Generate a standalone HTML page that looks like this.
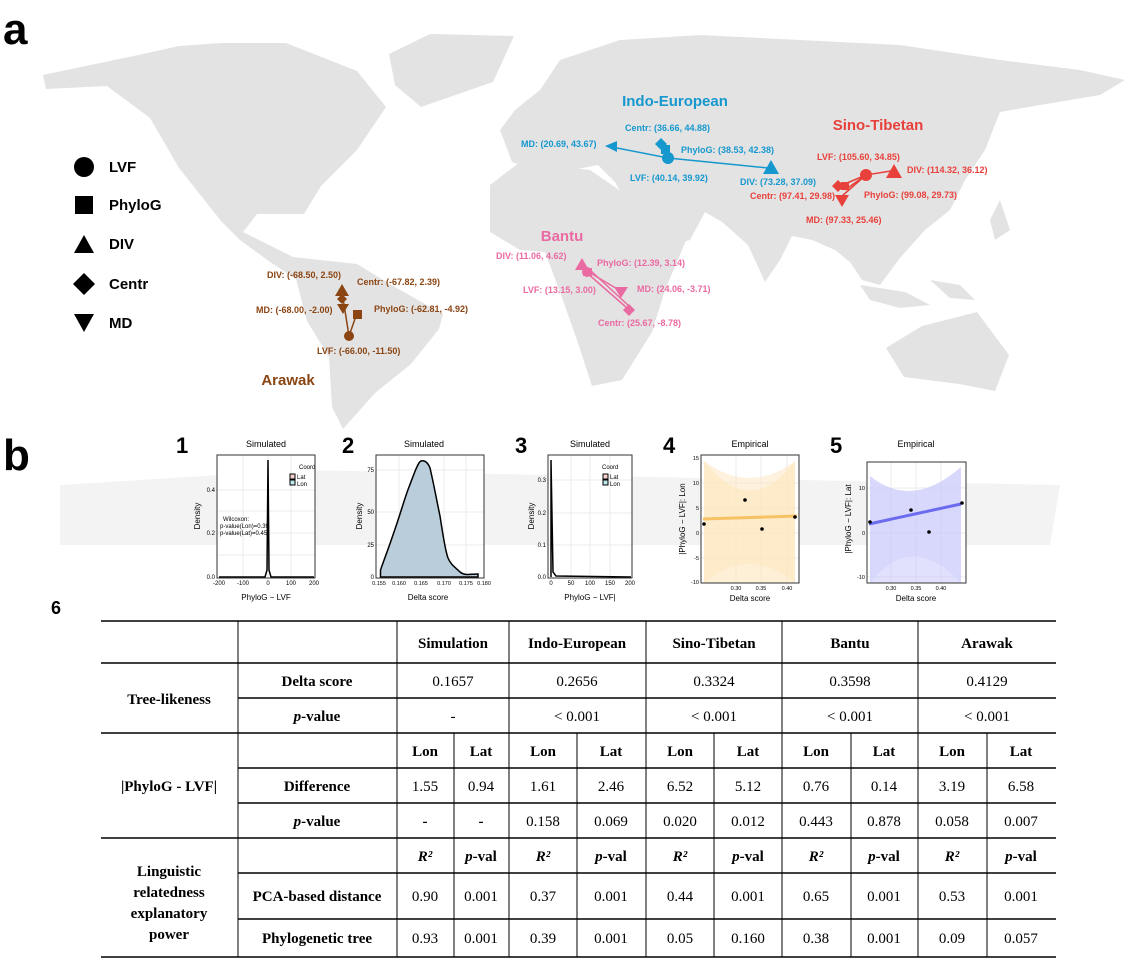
<!DOCTYPE html>
<html><head><meta charset="utf-8"><style>
html,body{margin:0;padding:0;background:#fff;}
svg{display:block;}
.m{font-family:"Liberation Sans",sans-serif;font-weight:bold;}
.t{font-family:"Liberation Serif",serif;font-size:15px;}
.b{font-weight:bold;}
</style></head><body>
<svg width="1128" height="966" viewBox="0 0 1128 966" xmlns="http://www.w3.org/2000/svg">
<!-- map -->
<g fill="#e3e3e3">
<polygon points="43,75 143,54 179,46 221,43 286,43 357,71 386,107 357,150 321,186 304,214 257,214 243,232 293,257 311,271 296,279 270,262 240,240 221,221 179,168 150,118 107,86 46,89"/>
<polygon points="389,54 430,34 514,36 493,82 421,107 395,85"/>
<polygon points="293,257 357,264 393,286 443,314 439,329 411,364 375,393 343,429 332,407 329,357 307,321 296,279"/>
<polygon points="500,130 515,110 540,90 560,60 620,40 700,35 800,40 900,45 1000,60 1080,70 1125,80 1100,95 1040,105 1000,112 985,150 965,180 950,210 925,230 900,258 880,285 862,280 850,262 835,250 812,240 792,236 780,260 765,282 748,245 722,222 705,212 690,240 660,250 640,240 628,205 615,182 598,165 572,170 540,172 512,162"/>
<polygon points="490,185 520,162 590,170 622,192 650,235 688,236 665,290 652,332 622,380 592,386 577,340 560,292 545,252 520,250 490,232"/>
<polygon points="886,348 922,326 977,312 1009,355 995,391 959,384 904,377"/>
<polygon points="860,285 905,292 930,305 900,308 870,300"/>
<polygon points="930,280 960,285 975,300 950,298"/>
<polygon points="990,220 1000,200 1010,230 995,240"/>
</g>
<polygon points="60,485 300,470 700,478 1060,485 1050,545 60,545" fill="#f3f3f3"/>
<text x="3" y="44" class="m" font-size="44">a</text>
<text x="3" y="470" class="m" font-size="44">b</text>
<!-- legend -->
<g fill="#000">
<circle cx="84" cy="167" r="10"/>
<rect x="75" y="196" width="18" height="18"/>
<polygon points="84,235 94,253 74,253"/>
<polygon points="84,273 95,284 84,295 73,284"/>
<polygon points="74,314 94,314 84,332"/>
</g>
<g class="m" font-size="15" fill="#000">
<text x="109" y="172">LVF</text><text x="109" y="210">PhyloG</text><text x="109" y="249">DIV</text><text x="109" y="289">Centr</text><text x="109" y="328">MD</text>
</g>
<!-- Indo-European -->
<g fill="#1698cf" stroke="#1698cf">
<line x1="668" y1="158" x2="612" y2="147" stroke-width="1.5"/><line x1="668" y1="158" x2="768" y2="168" stroke-width="1.5"/>
<line x1="668" y1="158" x2="661" y2="145" stroke-width="3"/>
<circle cx="668" cy="158" r="6" stroke="none"/><rect x="661" y="145" width="9" height="9" stroke="none"/>
<polygon points="661,138 667,144 661,150 655,144" stroke="none"/>
<polygon points="605,146 617,141 617,152" stroke="none"/>
<polygon points="771,160 779,174 763,174" stroke="none"/>
</g>
<g class="m" font-size="9" fill="#1698cf">
<text x="675" y="106" font-size="15" text-anchor="middle">Indo-European</text>
<text x="625" y="131">Centr: (36.66, 44.88)</text>
<text x="681" y="153">PhyloG: (38.53, 42.38)</text>
<text x="521" y="147">MD: (20.69, 43.67)</text>
<text x="630" y="181">LVF: (40.14, 39.92)</text>
<text x="740" y="185">DIV: (73.28, 37.09)</text>
</g>
<!-- Sino-Tibetan -->
<g fill="#e8413c" stroke="#e8413c" stroke-width="1.5">
<line x1="866" y1="175" x2="891" y2="171"/><line x1="866" y1="175" x2="840" y2="186"/><line x1="866" y1="175" x2="845" y2="190"/><line x1="866" y1="175" x2="842" y2="196"/>
<circle cx="866" cy="175" r="6" stroke="none"/>
<polygon points="894,164 902,178 886,178" stroke="none"/>
<polygon points="838,180 844,186 838,192 832,186" stroke="none"/>
<rect x="841" y="182" width="8" height="8" stroke="none"/>
<polygon points="835,195 849,195 842,207" stroke="none"/>
</g>
<g class="m" font-size="9" fill="#e8413c">
<text x="878" y="130" font-size="15" text-anchor="middle">Sino-Tibetan</text>
<text x="817" y="160">LVF: (105.60, 34.85)</text>
<text x="907" y="173">DIV: (114.32, 36.12)</text>
<text x="750" y="199">Centr: (97.41, 29.98)</text>
<text x="864" y="198">PhyloG: (99.08, 29.73)</text>
<text x="806" y="223">MD: (97.33, 25.46)</text>
</g>
<!-- Bantu -->
<g fill="#ea6aa2" stroke="#ea6aa2" stroke-width="1.5">
<line x1="587" y1="271" x2="619" y2="290"/><line x1="587" y1="273" x2="627" y2="308"/><line x1="590" y1="270" x2="629" y2="306"/>
<polygon points="582,258 589,270 575,270" stroke="none"/>
<circle cx="587" cy="272" r="5" stroke="none"/><rect x="583" y="268" width="9" height="8" stroke="none"/>
<polygon points="614,287 628,287 621,298" stroke="none"/>
<polygon points="629,304 635,310 629,316 623,310" stroke="none"/>
</g>
<g class="m" font-size="9" fill="#ea6aa2">
<text x="562" y="241" font-size="15" text-anchor="middle">Bantu</text>
<text x="496" y="259">DIV: (11.06, 4.62)</text>
<text x="597" y="266">PhyloG: (12.39, 3.14)</text>
<text x="523" y="293">LVF: (13.15, 3.00)</text>
<text x="637" y="292">MD: (24.06, -3.71)</text>
<text x="598" y="326">Centr: (25.67, -8.78)</text>
</g>
<!-- Arawak -->
<g fill="#8b4513" stroke="#8b4513" stroke-width="1.5">
<line x1="349" y1="336" x2="342" y2="292"/><line x1="349" y1="336" x2="356" y2="316"/>
<circle cx="349" cy="336" r="5" stroke="none"/>
<polygon points="342,284 349,296 335,296" stroke="none"/>
<polygon points="342,294 347,299 342,304 337,299" stroke="none"/>
<polygon points="337,304 349,304 343,314" stroke="none"/>
<rect x="353" y="310" width="9" height="9" stroke="none"/>
</g>
<g class="m" font-size="9" fill="#8b4513">
<text x="288" y="385" font-size="15" text-anchor="middle">Arawak</text>
<text x="267" y="278">DIV: (-68.50, 2.50)</text>
<text x="357" y="285">Centr: (-67.82, 2.39)</text>
<text x="256" y="313">MD: (-68.00, -2.00)</text>
<text x="374" y="312">PhyloG: (-62.81, -4.92)</text>
<text x="317" y="354">LVF: (-66.00, -11.50)</text>
</g>
<!-- small plots -->
<g font-family="Liberation Sans,sans-serif">
<g class="m" font-size="22"><text x="176" y="453">1</text><text x="342" y="453">2</text><text x="515" y="453">3</text><text x="663" y="453">4</text><text x="830" y="453">5</text></g>
<g font-size="9" text-anchor="middle"><text x="266" y="447">Simulated</text><text x="424" y="447">Simulated</text><text x="590" y="447">Simulated</text><text x="750" y="447">Empirical</text><text x="916" y="447">Empirical</text></g>
<!-- plot1 -->
<rect x="217" y="455" width="98" height="123" fill="#fff"/>
<g stroke="#ebebeb" stroke-width="1"><line x1="243" y1="455" x2="243" y2="578"/><line x1="268" y1="455" x2="268" y2="578"/><line x1="291" y1="455" x2="291" y2="578"/><line x1="217" y1="490" x2="315" y2="490"/><line x1="217" y1="533" x2="315" y2="533"/><line x1="217" y1="511" x2="315" y2="511"/><line x1="217" y1="555" x2="315" y2="555"/></g>
<polyline points="219,577 265,577 267,570 268,460 269,570 271,577 314,577" fill="none" stroke="#000" stroke-width="1.5"/>
<rect x="217" y="455" width="98" height="123" fill="none" stroke="#333"/>
<g font-size="6"><text x="223" y="521">Wilcoxon:</text><text x="220" y="528">p-value(Lon)=0.39</text><text x="220" y="535">p-value(Lat)=0.45</text></g>
<text x="299" y="469" font-size="6">Coord</text><rect x="290" y="474" width="5" height="5" fill="#f8d0cc" stroke="#000"/><rect x="290" y="480" width="5" height="5" fill="#bfe8ee" stroke="#000"/><text x="297" y="479" font-size="6">Lat</text><text x="297" y="486" font-size="6">Lon</text>
<g font-size="6" text-anchor="end"><text x="215" y="492">0.4</text><text x="215" y="535">0.2</text><text x="215" y="579">0.0</text></g>
<g font-size="6" text-anchor="middle"><text x="219" y="585">-200</text><text x="243" y="585">-100</text><text x="268" y="585">0</text><text x="291" y="585">100</text><text x="314" y="585">200</text></g>
<text x="266" y="600" font-size="8" text-anchor="middle">PhyloG − LVF</text>
<text transform="translate(200,516) rotate(-90)" font-size="8" text-anchor="middle">Density</text>
<!-- plot2 -->
<rect x="376" y="455" width="108" height="123" fill="#fff"/>
<g stroke="#ebebeb"><line x1="399" y1="455" x2="399" y2="578"/><line x1="421" y1="455" x2="421" y2="578"/><line x1="444" y1="455" x2="444" y2="578"/><line x1="466" y1="455" x2="466" y2="578"/><line x1="376" y1="470" x2="484" y2="470"/><line x1="376" y1="512" x2="484" y2="512"/><line x1="376" y1="545" x2="484" y2="545"/></g>
<path d="M380.5,577 L380.5,570 C384,560 389,547 394,532 C400,515 405,497 409,487 C414,474 418,462 421,461 C425,460 428,463 430,468 C434,485 437,502 440,516 C443,535 445,550 448,558 C451,565 455,567 460,572 C465,576 470,574 478,574 L478,577 Z" fill="#b9cdda" stroke="#000" stroke-width="1.5"/>
<rect x="376" y="455" width="108" height="123" fill="none" stroke="#333"/>
<g font-size="6" text-anchor="end"><text x="374" y="472">75</text><text x="374" y="514">50</text><text x="374" y="547">25</text><text x="374" y="579">0</text></g>
<g font-size="5.5" text-anchor="middle"><text x="379" y="585">0.155</text><text x="399" y="585">0.160</text><text x="421" y="585">0.165</text><text x="444" y="585">0.170</text><text x="466" y="585">0.175</text><text x="484" y="585">0.180</text></g>
<text x="428" y="600" font-size="8" text-anchor="middle">Delta score</text>
<text transform="translate(362,516) rotate(-90)" font-size="8" text-anchor="middle">Density</text>
<!-- plot3 -->
<rect x="548" y="455" width="84" height="123" fill="#fff"/>
<g stroke="#ebebeb"><line x1="571" y1="455" x2="571" y2="578"/><line x1="590" y1="455" x2="590" y2="578"/><line x1="610" y1="455" x2="610" y2="578"/><line x1="548" y1="480" x2="632" y2="480"/><line x1="548" y1="513" x2="632" y2="513"/><line x1="548" y1="545" x2="632" y2="545"/></g>
<polyline points="551,577 551,460 553,572 556,576 631,577" fill="none" stroke="#000" stroke-width="1.5"/>
<rect x="548" y="455" width="84" height="123" fill="none" stroke="#333"/>
<text x="602" y="469" font-size="6">Coord</text><rect x="603" y="474" width="5" height="5" fill="#f8d0cc" stroke="#000"/><rect x="603" y="480" width="5" height="5" fill="#bfe8ee" stroke="#000"/><text x="610" y="479" font-size="6">Lat</text><text x="610" y="486" font-size="6">Lon</text>
<g font-size="6" text-anchor="end"><text x="546" y="482">0.3</text><text x="546" y="515">0.2</text><text x="546" y="547">0.1</text><text x="546" y="579">0.0</text></g>
<g font-size="6" text-anchor="middle"><text x="551" y="585">0</text><text x="571" y="585">50</text><text x="590" y="585">100</text><text x="610" y="585">150</text><text x="630" y="585">200</text></g>
<text x="590" y="600" font-size="8" text-anchor="middle">PhyloG − LVF|</text>
<text transform="translate(534,516) rotate(-90)" font-size="8" text-anchor="middle">Density</text>
<!-- plot4 -->
<rect x="701" y="455" width="98" height="128" fill="#fff"/>
<g stroke="#ebebeb"><line x1="736" y1="455" x2="736" y2="583"/><line x1="761" y1="455" x2="761" y2="583"/><line x1="787" y1="455" x2="787" y2="583"/><line x1="701" y1="483" x2="799" y2="483"/><line x1="701" y1="508" x2="799" y2="508"/><line x1="701" y1="533" x2="799" y2="533"/><line x1="701" y1="558" x2="799" y2="558"/></g>
<path d="M704,461 Q750,520 795,461 L795,583 L704,583 Z" fill="#fde6bd" opacity="0.6"/>
<path d="M704,461 Q750,495 795,461 L795,583 Q750,545 704,583 Z" fill="#fde6bd" opacity="0.5"/>
<line x1="703" y1="519" x2="797" y2="516" stroke="#f7c264" stroke-width="3"/>
<g fill="#000"><circle cx="704" cy="524" r="1.8"/><circle cx="745" cy="500" r="1.8"/><circle cx="762" cy="529" r="1.8"/><circle cx="795" cy="517" r="1.8"/></g>
<rect x="701" y="455" width="98" height="128" fill="none" stroke="#333"/>
<g font-size="5.5" text-anchor="end"><text x="699" y="460">15</text><text x="699" y="485">10</text><text x="699" y="510">5</text><text x="699" y="535">0</text><text x="699" y="560">-5</text><text x="699" y="584">-10</text></g>
<g font-size="5.5" text-anchor="middle"><text x="736" y="590">0.30</text><text x="761" y="590">0.35</text><text x="787" y="590">0.40</text></g>
<text x="750" y="601" font-size="8" text-anchor="middle">Delta score</text>
<text transform="translate(685,519) rotate(-90)" font-size="8" text-anchor="middle">|PhyloG − LVF|: Lon</text>
<!-- plot5 -->
<rect x="867" y="462" width="99" height="121" fill="#fff"/>
<g stroke="#ebebeb"><line x1="891" y1="462" x2="891" y2="583"/><line x1="916" y1="462" x2="916" y2="583"/><line x1="941" y1="462" x2="941" y2="583"/><line x1="867" y1="488" x2="966" y2="488"/><line x1="867" y1="533" x2="966" y2="533"/><line x1="867" y1="577" x2="966" y2="577"/></g>
<path d="M870,476 Q912,510 961,467 L961,583 L870,583 Z" fill="#c9c9fb" opacity="0.55"/>
<path d="M870,476 Q912,510 961,467 L961,583 Q912,530 870,583 Z" fill="#c9c9fb" opacity="0.35"/>
<line x1="869" y1="524" x2="961" y2="504" stroke="#6b6bef" stroke-width="3"/>
<g fill="#000"><circle cx="870" cy="522" r="1.8"/><circle cx="911" cy="510" r="1.8"/><circle cx="929" cy="532" r="1.8"/><circle cx="962" cy="503" r="1.8"/></g>
<rect x="867" y="462" width="99" height="121" fill="none" stroke="#333"/>
<g font-size="5.5" text-anchor="end"><text x="865" y="490">10</text><text x="865" y="535">0</text><text x="865" y="579">-10</text></g>
<g font-size="5.5" text-anchor="middle"><text x="891" y="590">0.30</text><text x="916" y="590">0.35</text><text x="941" y="590">0.40</text></g>
<text x="916" y="601" font-size="8" text-anchor="middle">Delta score</text>
<text transform="translate(851,519) rotate(-90)" font-size="8" text-anchor="middle">|PhyloG − LVF|: Lat</text>
</g>
<text x="51" y="614" class="m" font-size="18">6</text>
<!-- table -->
<g stroke="#000" stroke-width="1.5">
<line x1="101" y1="621" x2="1056" y2="621"/><line x1="101" y1="663" x2="1056" y2="663"/>
<line x1="238" y1="698" x2="1056" y2="698"/><line x1="101" y1="733" x2="1056" y2="733"/>
<line x1="238" y1="768" x2="1056" y2="768"/><line x1="238" y1="803" x2="1056" y2="803"/>
<line x1="101" y1="838" x2="1056" y2="838"/><line x1="238" y1="873" x2="1056" y2="873"/>
<line x1="238" y1="919" x2="1056" y2="919"/><line x1="101" y1="957" x2="1056" y2="957"/>
</g>
<g stroke="#000" stroke-width="1">
<line x1="238" y1="621" x2="238" y2="957"/><line x1="397" y1="621" x2="397" y2="957"/><line x1="509" y1="621" x2="509" y2="957"/><line x1="646" y1="621" x2="646" y2="957"/><line x1="782" y1="621" x2="782" y2="957"/><line x1="918" y1="621" x2="918" y2="957"/>
<line x1="454" y1="733" x2="454" y2="957"/><line x1="577" y1="733" x2="577" y2="957"/><line x1="714" y1="733" x2="714" y2="957"/><line x1="851" y1="733" x2="851" y2="957"/><line x1="987" y1="733" x2="987" y2="957"/>
</g>
<g class="t" text-anchor="middle">
<g class="b"><text x="453" y="648">Simulation</text><text x="577" y="648">Indo-European</text><text x="714" y="648">Sino-Tibetan</text><text x="850" y="648">Bantu</text><text x="987" y="648">Arawak</text>
<text x="169" y="704">Tree-likeness</text><text x="169" y="791">|PhyloG - LVF|</text>
<text x="169" y="876">Linguistic</text><text x="169" y="897">relatedness</text><text x="169" y="918">explanatory</text><text x="169" y="939">power</text>
<text x="317" y="686">Delta score</text><text x="317" y="721"><tspan font-style="italic">p</tspan>-value</text>
<text x="317" y="791">Difference</text><text x="317" y="826"><tspan font-style="italic">p</tspan>-value</text>
<text x="317" y="901">PCA-based distance</text><text x="317" y="943">Phylogenetic tree</text>
<text x="425" y="756">Lon</text><text x="481" y="756">Lat</text><text x="543" y="756">Lon</text><text x="611" y="756">Lat</text><text x="680" y="756">Lon</text><text x="748" y="756">Lat</text><text x="816" y="756">Lon</text><text x="884" y="756">Lat</text><text x="952" y="756">Lon</text><text x="1021" y="756">Lat</text>
<g font-style="italic"><text x="425" y="861">R²</text><text x="543" y="861">R²</text><text x="680" y="861">R²</text><text x="816" y="861">R²</text><text x="952" y="861">R²</text></g>
<text x="481" y="861"><tspan font-style="italic">p</tspan>-val</text><text x="611" y="861"><tspan font-style="italic">p</tspan>-val</text><text x="748" y="861"><tspan font-style="italic">p</tspan>-val</text><text x="884" y="861"><tspan font-style="italic">p</tspan>-val</text><text x="1021" y="861"><tspan font-style="italic">p</tspan>-val</text>
</g>
<text x="453" y="686">0.1657</text><text x="577" y="686">0.2656</text><text x="714" y="686">0.3324</text><text x="850" y="686">0.3598</text><text x="987" y="686">0.4129</text>
<text x="453" y="721">-</text><text x="577" y="721">&lt; 0.001</text><text x="714" y="721">&lt; 0.001</text><text x="850" y="721">&lt; 0.001</text><text x="987" y="721">&lt; 0.001</text>
<text x="425" y="791">1.55</text><text x="481" y="791">0.94</text><text x="543" y="791">1.61</text><text x="611" y="791">2.46</text><text x="680" y="791">6.52</text><text x="748" y="791">5.12</text><text x="816" y="791">0.76</text><text x="884" y="791">0.14</text><text x="952" y="791">3.19</text><text x="1021" y="791">6.58</text>
<text x="425" y="826" class="b">-</text><text x="481" y="826" class="b">-</text><text x="543" y="826">0.158</text><text x="611" y="826">0.069</text><text x="680" y="826">0.020</text><text x="748" y="826">0.012</text><text x="816" y="826">0.443</text><text x="884" y="826">0.878</text><text x="952" y="826">0.058</text><text x="1021" y="826">0.007</text>
<text x="425" y="901">0.90</text><text x="481" y="901">0.001</text><text x="543" y="901">0.37</text><text x="611" y="901">0.001</text><text x="680" y="901">0.44</text><text x="748" y="901">0.001</text><text x="816" y="901">0.65</text><text x="884" y="901">0.001</text><text x="952" y="901">0.53</text><text x="1021" y="901">0.001</text>
<text x="425" y="943">0.93</text><text x="481" y="943">0.001</text><text x="543" y="943">0.39</text><text x="611" y="943">0.001</text><text x="680" y="943">0.05</text><text x="748" y="943">0.160</text><text x="816" y="943">0.38</text><text x="884" y="943">0.001</text><text x="952" y="943">0.09</text><text x="1021" y="943">0.057</text>
</g>
</svg>
</body></html>
